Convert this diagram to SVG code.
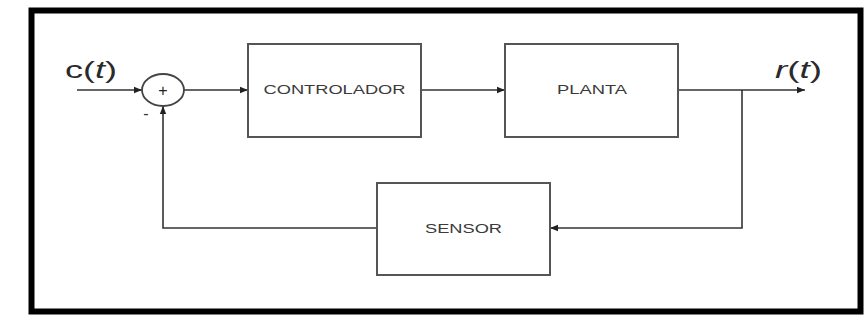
<svg xmlns="http://www.w3.org/2000/svg" width="864" height="322" viewBox="0 0 864 322">
  <defs>
    <marker id="arrow" viewBox="0 0 10 10" refX="10" refY="5" markerWidth="14" markerHeight="8" markerUnits="userSpaceOnUse" orient="auto">
      <path d="M0,1 L10,5 L0,9 Z" fill="#222"/>
    </marker>
    <style>
      .block { fill: #fff; stroke: #555; stroke-width: 2; }
      .label { font-family: "Liberation Sans", Arial, sans-serif; font-size: 12.5px; fill: #3a3a3a; text-anchor: middle; dominant-baseline: central; }
      .wire { fill: none; stroke: #333; stroke-width: 1.6; }
      .sig { font-family: "Liberation Sans", Arial, sans-serif; font-size: 24px; fill: #2a2a2a; }
    </style>
  </defs>
  <rect x="0" y="0" width="864" height="322" fill="#fff"/>
  <!-- outer frame -->
  <rect x="31.5" y="10.5" width="829" height="301" fill="none" stroke="#000" stroke-width="6"/>

  <g id="connectors">
    <line class="wire" x1="77" y1="90" x2="142" y2="90" marker-end="url(#arrow)"/>
    <line class="wire" x1="184" y1="90" x2="248" y2="90" marker-end="url(#arrow)"/>
    <line class="wire" x1="421" y1="90" x2="505" y2="90" marker-end="url(#arrow)"/>
    <line class="wire" x1="678" y1="90" x2="805" y2="90" marker-end="url(#arrow)"/>
    <polyline class="wire" points="742,90 742,228 550,228" marker-end="url(#arrow)"/>
    <polyline class="wire" points="377,228 163,228 163,106" marker-end="url(#arrow)"/>
  </g>

  <g id="sum">
    <ellipse cx="163" cy="90" rx="21" ry="16" fill="#fff" stroke="#444" stroke-width="1.8"/>
    <text x="163" y="90" font-family="Liberation Sans, Arial, sans-serif" font-size="16" fill="#222" text-anchor="middle" dominant-baseline="central">+</text>
    <text x="146" y="119" font-family="Liberation Sans, Arial, sans-serif" font-size="16" fill="#333" text-anchor="middle">-</text>
  </g>

  <g id="controlador">
    <rect class="block" x="248" y="44" width="173" height="93"/>
    <text class="label" x="334.5" y="90" textLength="142" lengthAdjust="spacingAndGlyphs">CONTROLADOR</text>
  </g>

  <g id="planta">
    <rect class="block" x="505" y="44" width="173" height="93"/>
    <text class="label" x="592" y="90" textLength="70" lengthAdjust="spacingAndGlyphs">PLANTA</text>
  </g>

  <g id="sensor">
    <rect class="block" x="377" y="183" width="173" height="92"/>
    <text class="label" x="463.5" y="229" textLength="77" lengthAdjust="spacingAndGlyphs">SENSOR</text>
  </g>

  <g id="signal-labels">
    <text class="sig" x="65" y="78" textLength="52" lengthAdjust="spacingAndGlyphs">c(<tspan font-style="italic">t</tspan>)</text>
    <text class="sig" x="775" y="78" textLength="47" lengthAdjust="spacingAndGlyphs"><tspan font-style="italic">r</tspan>(<tspan font-style="italic">t</tspan>)</text>
  </g>
</svg>
